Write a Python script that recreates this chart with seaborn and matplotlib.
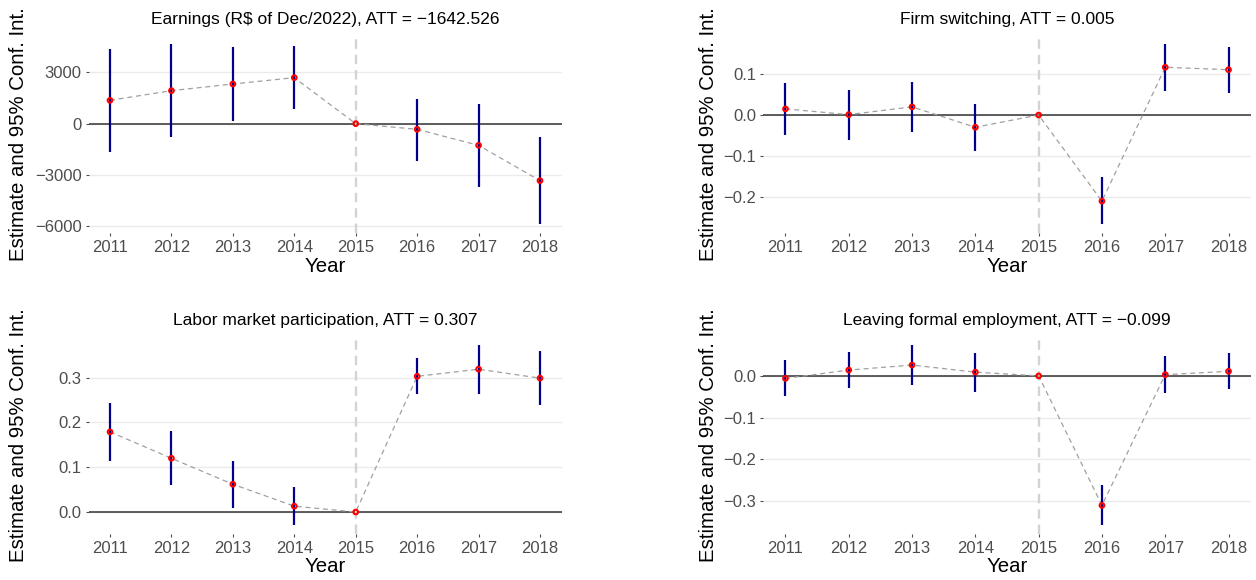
import numpy as np
import pandas as pd
import matplotlib
matplotlib.use("Agg")
import matplotlib.pyplot as plt
import matplotlib.ticker as mticker
import seaborn as sns

# event-study estimates
years = [2011, 2012, 2013, 2014, 2015, 2016, 2017, 2018]

earn_est = [1364, 1929, 2318, 2688, 0, -331, -1266, -3331]
earn_lo = [-1656, -799, 136, 838, 0, -2162, -3682, -5864]
earn_hi = [4364, 4656, 4481, 4519, 0, 1461, 1130, -760]

firm_est = [0.015, 0.001, 0.020, -0.030, 0.0, -0.211, 0.117, 0.111]
firm_lo = [-0.049, -0.060, -0.041, -0.088, 0.0, -0.267, 0.060, 0.055]
firm_hi = [0.078, 0.061, 0.080, 0.028, 0.0, -0.153, 0.174, 0.167]

labor_est = [0.179, 0.120, 0.062, 0.013, 0.0, 0.303, 0.319, 0.299]
labor_lo = [0.113, 0.061, 0.009, -0.029, 0.0, 0.263, 0.263, 0.240]
labor_hi = [0.243, 0.180, 0.114, 0.056, 0.0, 0.343, 0.373, 0.359]

leave_est = [-0.006, 0.014, 0.026, 0.009, 0.0, -0.310, 0.003, 0.011]
leave_lo = [-0.048, -0.030, -0.022, -0.038, 0.0, -0.357, -0.042, -0.032]
leave_hi = [0.037, 0.058, 0.074, 0.055, 0.0, -0.262, 0.047, 0.056]

titles = [
    "Earnings (R$ of Dec/2022), ATT = \u22121642.526",
    "Firm switching, ATT = 0.005",
    "Labor market participation, ATT = 0.307",
    "Leaving formal employment, ATT = \u22120.099",
]
ystep = [3000, 0.1, 0.1, 0.1]
yfmt = ["%d", "%.1f", "%.1f", "%.1f"]
treat_year = 2015

panels = [
    (earn_est, earn_lo, earn_hi),
    (firm_est, firm_lo, firm_hi),
    (labor_est, labor_lo, labor_hi),
    (leave_est, leave_lo, leave_hi),
]

sns.set_theme(style="white")
plt.rcParams["font.family"] = ["Liberation Sans", "DejaVu Sans"]

fig = plt.figure(figsize=(12.56, 5.8), dpi=100)
W, H = 1256, 580
# axes boxes in pixels: left, top, right, bottom
boxes = [
    (88.5, 35, 561.5, 233),
    (763.3, 35, 1250.7, 233),
    (88.5, 336, 561.5, 534),
    (763.3, 336, 1250.7, 534),
]
ylab_x = [19, 709, 19, 709]


def minus_fmt(fmt):
    def f(v, pos):
        if abs(v) < 1e-9:
            v = 0.0
        return (fmt % v).replace("-", "\u2212")
    return mticker.FuncFormatter(f)


for i, (est, lo, hi) in enumerate(panels):
    l, t, r, b = boxes[i]
    ax = fig.add_axes([l / W, 1 - b / H, (r - l) / W, (b - t) / H])
    df = pd.DataFrame({"year": years, "est": est, "lo": lo, "hi": hi})

    ax.axhline(0, color="#333333", lw=1.1, zorder=2)
    ax.axvline(treat_year, color="#D3D3D3", lw=1.7, dashes=(4, 2.5), zorder=2)
    sns.lineplot(data=df, x="year", y="est", ax=ax, color="#A0A0A0", lw=0.9,
                 dashes=False, zorder=3)
    ax.lines[-1].set_dashes((4, 3))
    ax.vlines(df["year"], df["lo"], df["hi"], color="#00008B", lw=1.6, zorder=4)
    sns.scatterplot(data=df, x="year", y="est", ax=ax, marker="o", s=11,
                    facecolor="none", edgecolor="red", linewidth=1.5, zorder=5)

    ax.margins(x=0.05, y=0.05)
    ax.set_xticks(years)
    ax.yaxis.set_major_locator(mticker.MultipleLocator(ystep[i]))
    ax.yaxis.set_major_formatter(minus_fmt(yfmt[i]))
    ax.grid(axis="y", color="#EBEBEB", lw=1.0)
    ax.grid(axis="x", visible=False)
    ax.set_axisbelow(True)
    for s in ax.spines.values():
        s.set_visible(False)
    ax.tick_params(axis="both", which="major", length=2.5, width=0.8, color="#4D4D4D",
                   labelcolor="#4D4D4D", labelsize=12, pad=2.5, left=True, bottom=True)

    ax.set_title(titles[i], fontsize=12.5, color="black", pad=8)
    ax.set_xlabel("Year", fontsize=14.7, color="black", va="center")
    ax.xaxis.set_label_coords(0.5, -(266 - 233) / (b - t))
    ax.set_ylabel("Estimate and 95% Conf. Int.", fontsize=14.7, color="black", va="center")
    ax.yaxis.set_label_coords((ylab_x[i] - l) / (r - l), 0.5)

fig.savefig("out.png", dpi=100)
